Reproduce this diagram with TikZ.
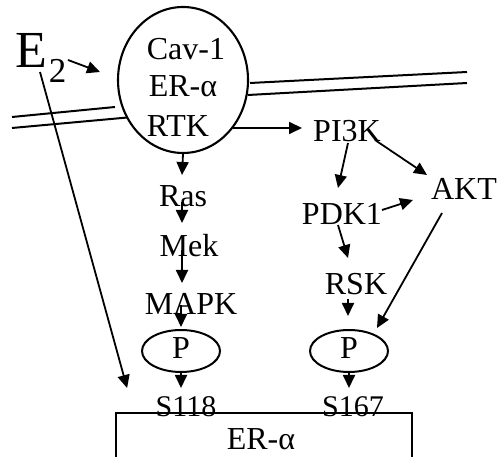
\documentclass[tikz,border=0pt]{standalone}
\usepackage{fontspec}
\setmainfont{Liberation Serif}
\usetikzlibrary{shapes.geometric,arrows.meta,calc}
\begin{document}
\begin{tikzpicture}[x=1pt,y=1pt,
  lbl/.style={inner sep=0pt, anchor=base, font=\fontsize{32}{36}\selectfont},
  sml/.style={inner sep=0pt, anchor=base, font=\fontsize{30}{34}\selectfont},
  arr/.style={line width=1.8pt, -{Triangle[length=13pt,width=12pt]}},
  memb/.style={line width=2pt},
  pell/.style={draw, ellipse, line width=2pt, minimum width=78pt, minimum height=42pt, inner sep=0pt}]
\useasboundingbox (0,0) rectangle (503,457);
% membrane
\draw[memb] (12,340) -- (115,350);
\draw[memb] (12,329) -- (133,340);
\draw[memb] (250,374) -- (467,385);
\draw[memb] (248,362) -- (467,374);
% receptor complex
\node[draw, ellipse, line width=2.1pt, fill=white, minimum width=130pt, minimum height=146pt, inner sep=0pt] (circ) at (183,377) {};
\node[lbl] (cav) at (186,397) {Cav-1};
\node[lbl] (era) at (183,360) {ER-α};
\node[lbl] (rtk) at (178,320) {RTK};
% E2
\node[inner sep=0pt, anchor=base west] (e2) at (15,389) {\fontsize{52}{52}\selectfont E\kern2pt\raisebox{-15pt}{\fontsize{35}{35}\selectfont 2}};
% pathway labels
\node[lbl] (ras) at (183,250) {Ras};
\node[lbl] (mek) at (189,200) {Mek};
\node[lbl] (mapk) at (191,142) {MAPK};
\node[lbl] (pik) at (347,315) {PI3K};
\node[lbl] (pdk) at (342,232) {PDK1};
\node[lbl] (akt) at (464,257) {AKT};
\node[lbl] (rsk) at (356,162) {RSK};
\node[pell] (pl) at (181,106) {};
\node[lbl] (plt) at (181,98) {P};
\node[pell] (pr) at (349,106) {};
\node[lbl] (prt) at (349,98) {P};
\node[sml] (s118) at (186,40) {S118};
\node[sml] (s167) at (353,40) {S167};
\node[draw, line width=1.8pt, minimum width=296pt, minimum height=80pt, inner sep=0pt, anchor=north] (box) at (264,45) {};
\node[lbl] (erbox) at (261,7) {ER-α};
% arrows
\draw[arr] ($(e2.base west)+(53,8)$) -- ($(circ.center)+(-83,8)$);
\draw[arr] ($(e2.base west)+(25,-4)$) -- ($(box.north west)+(12,24)$);
\draw[arr] (circ.south) -- ($(ras.base)+(-1,32)$);
\draw[arr] ($(ras.base)+(-1,5)$) -- ($(mek.base)+(-7,34)$);
\draw[arr] ($(mek.base)+(-7,7)$) -- ($(mapk.base)+(-9,32)$);
\draw[arr] ($(mapk.base)+(-10,10)$) -- ($(pl.north)+(0,2)$);
\draw[arr] (pl.south) -- ($(s118.base)+(-5,29)$);
\draw[arr] ($(circ.center)+(50,-48)$) -- ($(pik.base)+(-45,14)$);
\draw[arr] ($(pik.base)+(1,-1)$) -- ($(pdk.base)+(-4,37)$);
\draw[arr] ($(pik.base)+(28,2)$) -- ($(akt.base)+(-37,25)$);
\draw[arr] ($(pdk.base)+(40,15)$) -- ($(akt.base)+(-51,0)$);
\draw[arr] ($(pdk.base)+(-4,0)$) -- ($(rsk.base)+(-8,37)$);
\draw[arr] ($(rsk.base)+(-8,-4)$) -- ($(pr.north)+(-1,13)$);
\draw[arr] ($(akt.base)+(-22,-13)$) -- ($(pr.center)+(28,23)$);
\draw[arr] (pr.south) -- ($(s167.base)+(-4,29)$);
\end{tikzpicture}
\end{document}
